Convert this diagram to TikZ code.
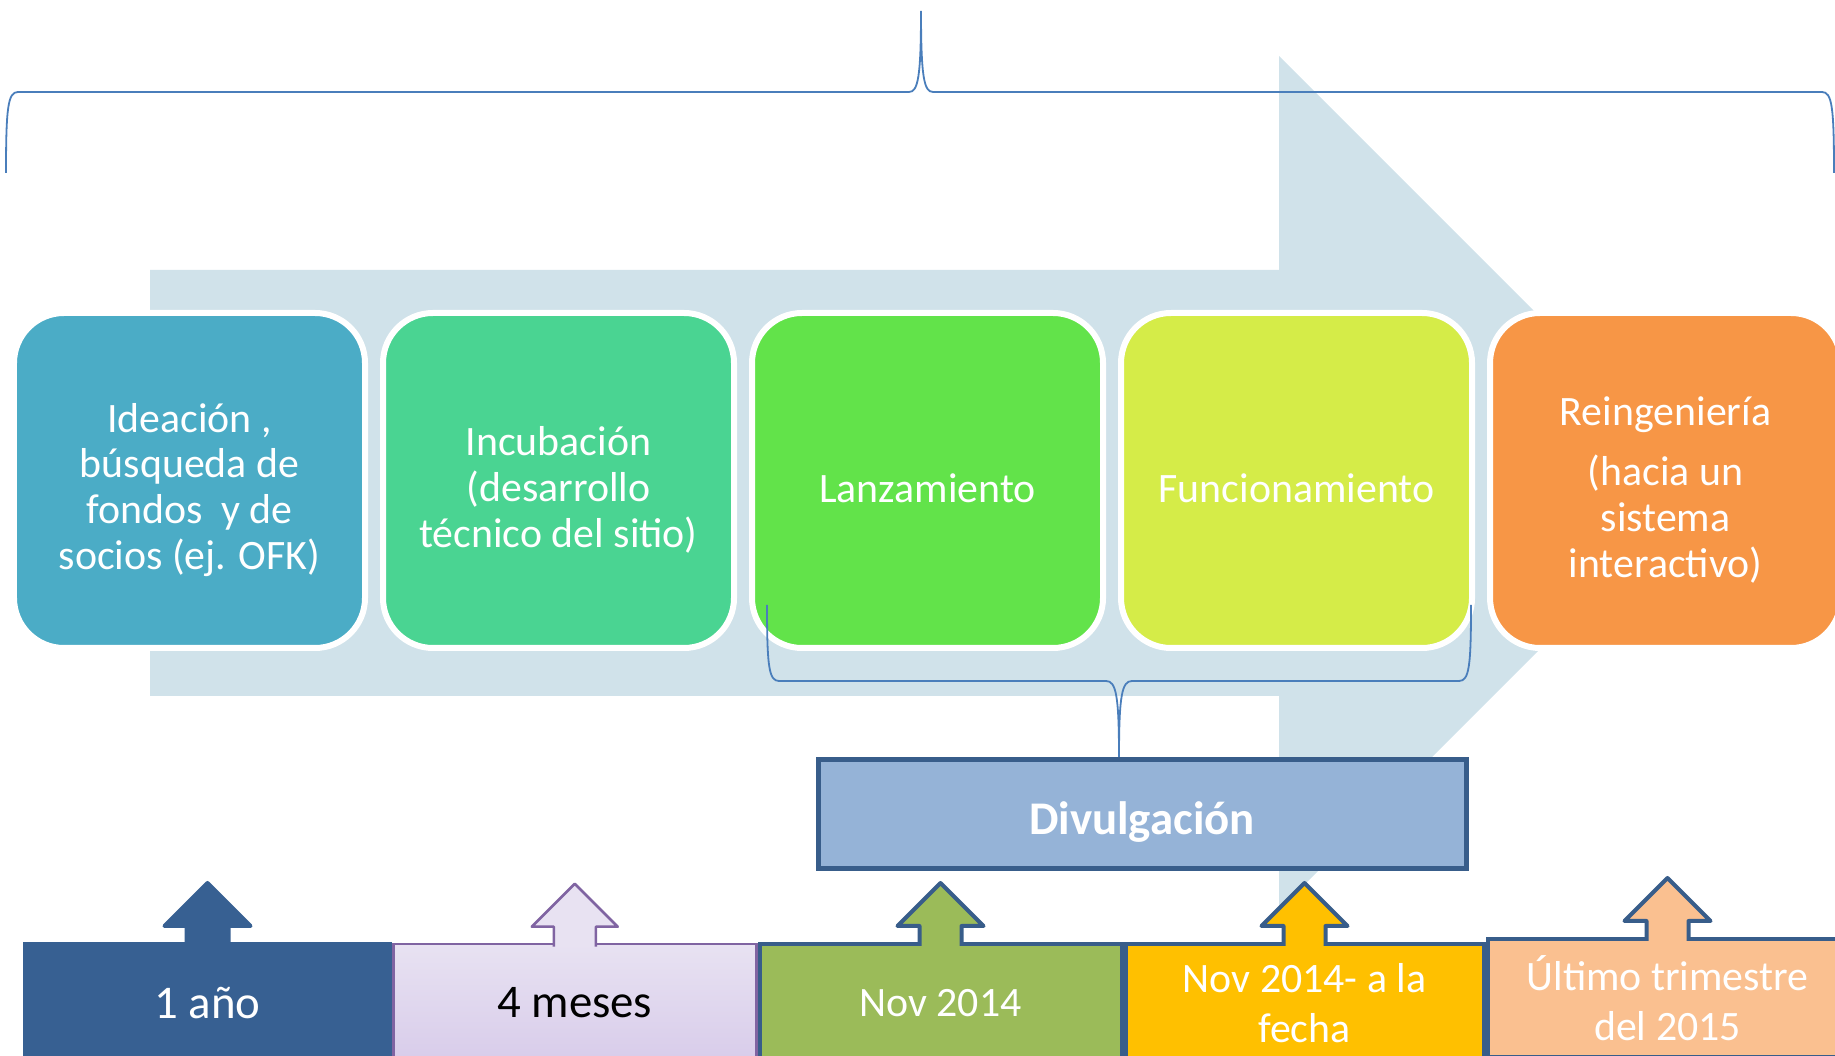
\documentclass[tikz,border=0pt]{standalone}
\usepackage{fontspec}
\setmainfont{Carlito}
\usetikzlibrary{positioning,calc}

\definecolor{bgarrow}{RGB}{208,226,234}
\definecolor{ideacol}{RGB}{75,172,198}
\definecolor{incubcol}{RGB}{74,212,146}
\definecolor{launchcol}{RGB}{98,227,74}
\definecolor{funccol}{RGB}{213,236,72}
\definecolor{reengcol}{RGB}{247,150,70}
\definecolor{divfill}{RGB}{149,179,215}
\definecolor{darkline}{RGB}{56,93,138}
\definecolor{bracecol}{RGB}{74,126,187}
\definecolor{yrcol}{RGB}{55,96,146}
\definecolor{motop}{RGB}{232,226,242}
\definecolor{mobot}{RGB}{216,204,234}
\definecolor{moline}{RGB}{128,100,162}
\definecolor{novcol}{RGB}{155,187,89}
\definecolor{nowcol}{RGB}{255,192,0}
\definecolor{lastcol}{RGB}{250,192,144}

\begin{document}
\begin{tikzpicture}[x=1bp, y=1bp,
    stage/.style={draw=white, line width=6bp, rounded corners=50bp,
      minimum width=351bp, minimum height=335bp, text=white, align=center,
      font=\fontsize{42}{46}\selectfont},
    period/.style={line width=4bp, minimum height=118bp,
      text=white, align=center, font=\fontsize{42}{50}\selectfont},
    bigtext/.style={font=\fontsize{47}{50}\selectfont},
    brace/.style={draw=bracecol, line width=1.8bp}]
  \useasboundingbox (0,0) rectangle (1835,1055);
  \fill[bgarrow] (150,785) -- (1279,785) -- (1279,999) -- (1706,572)
    -- (1279,145) -- (1279,359) -- (150,359) -- cycle;

  \coordinate (tl) at (6,882);
  \coordinate (tr) at (1834,882);
  \coordinate (tt) at (921,1044);
  \draw[brace] (tl) .. controls ($(tl)+(0,66)$) and ($(tl)+(2,81)$) .. ($(tl)+(12,81)$)
    -- ($(tt)+(-12,-81)$) .. controls ($(tt)+(-3,-81)$) and ($(tt)+(0,-66)$) .. (tt)
    .. controls ($(tt)+(0,-66)$) and ($(tt)+(3,-81)$) .. ($(tt)+(12,-81)$)
    -- ($(tr)+(-12,81)$) .. controls ($(tr)+(-2,81)$) and ($(tr)+(0,66)$) .. (tr);

  \node[stage, fill=ideacol] (idea) at (189.5,574.5)
    {\rule{0pt}{48pt}Ideación ,\\búsqueda de\\fondos~ y de\\socios (ej. OFK)};
  \node[stage, fill=incubcol, right=12bp of idea] (incub)
    {\rule{0pt}{48pt}Incubación\\(desarrollo\\técnico del sitio)};
  \node[stage, fill=launchcol, right=12bp of incub] (launch)
    {\rule{0pt}{44pt}Lanzamiento};
  \node[stage, fill=funccol, right=12bp of launch] (func)
    {\rule{0pt}{44pt}Funcionamiento};
  \node[stage, fill=reengcol, right=12bp of func] (reeng)
    {\rule{0pt}{48pt}Reingeniería\\[14pt](hacia un\\sistema\\interactivo)};

  \node[draw=darkline, fill=divfill, line width=5bp, minimum width=648bp,
    minimum height=109bp, text=white, font=\fontsize{47}{50}\selectfont\bfseries]
    (div) at (1142,241) {\rule{0pt}{49pt}Divulgación};

  \coordinate (bl) at ($(launch.south west)+(18,46)$);
  \coordinate (br) at ($(func.south east)+(-4,46)$);
  \coordinate (bt) at ($(div.north)+(-23,0)$);
  \draw[brace] (bl) .. controls ($(bl)+(0,-62)$) and ($(bl)+(2,-76)$) .. ($(bl)+(12,-76)$)
    -- ($(bt)+(-13,76)$) .. controls ($(bt)+(-3,76)$) and ($(bt)+(0,62)$) .. (bt)
    .. controls ($(bt)+(0,62)$) and ($(bt)+(3,76)$) .. ($(bt)+(13,76)$)
    -- ($(br)+(-12,-76)$) .. controls ($(br)+(-2,-76)$) and ($(br)+(0,-62)$) .. (br);

  \node[period, minimum width=365bp, fill=yrcol, draw=yrcol, bigtext] (yr)
    at (207.5,52) {1 año};
  \node[period, minimum width=363bp, top color=motop, bottom color=mobot,
    draw=moline, line width=2.5bp, text=black, bigtext, right=0bp of yr] (mo)
    {4 meses};
  \node[period, minimum width=362bp, fill=novcol, draw=darkline,
    right=0bp of mo] (nov) {Nov 2014};
  \node[period, minimum width=358bp, fill=nowcol, draw=darkline,
    right=0bp of nov] (now) {Nov 2014- a la\\fecha};
  \node[period, minimum width=360bp, fill=lastcol, draw=darkline,
    right=0bp of now, yshift=5bp] (last) {Último trimestre\\del 2015};

  \foreach \p/\f/\d/\w in {yr/yrcol/yrcol/4, mo/motop/moline/2.5,
      nov/novcol/darkline/4, now/nowcol/darkline/4, last/lastcol/darkline/4}
    \filldraw[fill=\f, draw=\d, line width=\w bp, line join=round]
      ($(\p.north)+(-21,-4)$) -- ($(\p.north)+(-21,16)$) -- ($(\p.north)+(-43,16)$)
      -- ($(\p.north)+(0,59)$) -- ($(\p.north)+(43,16)$) -- ($(\p.north)+(21,16)$)
      -- ($(\p.north)+(21,-4)$);
\end{tikzpicture}
\end{document}
